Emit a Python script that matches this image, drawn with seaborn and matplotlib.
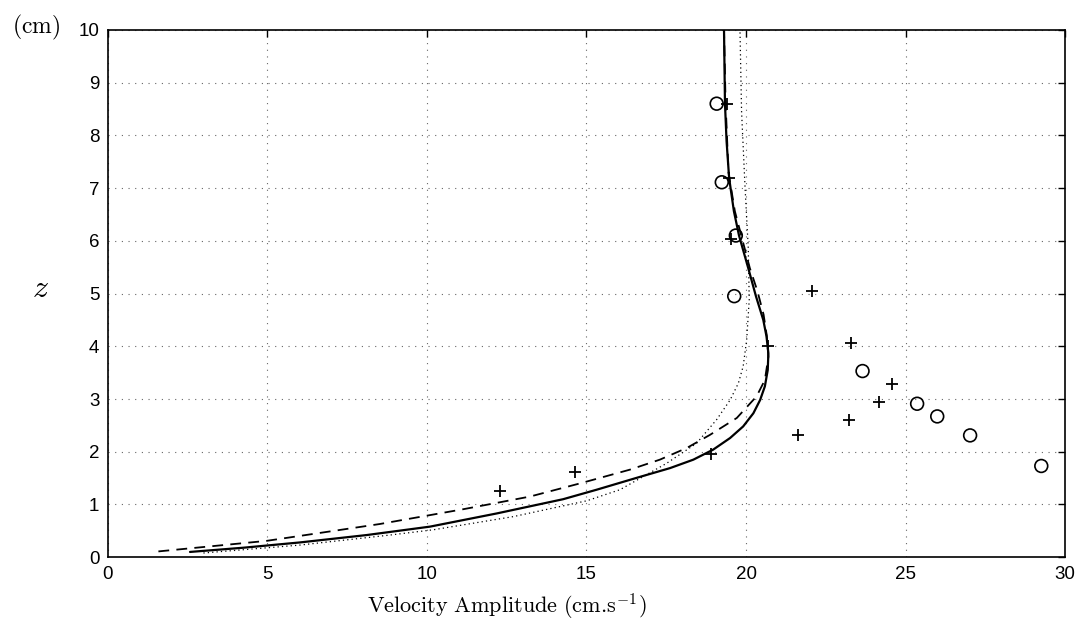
import matplotlib
matplotlib.use("Agg")
import matplotlib.pyplot as plt
import seaborn as sns

# ---- data ----
solid_x = [2.58, 4.25, 6.02, 8.11, 10.10, 12.19, 14.27, 15.32, 16.60, 17.62, 18.35, 18.97, 19.50, 19.91,
           20.23, 20.44, 20.59, 20.68, 20.70, 20.64, 20.54, 20.31, 20.07, 19.78, 19.62, 19.47, 19.39, 19.34, 19.31]
solid_z = [0.10, 0.18, 0.28, 0.42, 0.58, 0.83, 1.10, 1.28, 1.51, 1.69, 1.85, 2.04, 2.26, 2.48,
           2.73, 2.98, 3.24, 3.55, 3.87, 4.19, 4.50, 4.95, 5.48, 6.10, 6.56, 7.19, 7.89, 8.60, 10.0]

dash_x = [1.59, 4.98, 8.53, 11.14, 13.23, 14.80, 16.36, 17.30, 18.14, 18.87, 19.71, 20.33, 20.59,
          20.70, 20.65, 20.55, 20.36, 20.12, 19.65, 19.45, 19.36, 19.31]
dash_z = [0.11, 0.31, 0.63, 0.91, 1.15, 1.40, 1.66, 1.85, 2.07, 2.32, 2.64, 3.05, 3.36,
          3.80, 4.20, 4.60, 5.04, 5.48, 6.56, 7.30, 8.60, 10.0]

dot_x = [3.0, 6.02, 8.84, 10.2, 12.71, 15.01, 16.05, 17.51, 18.45, 19.08, 19.50, 19.76, 19.91,
         20.02, 20.10, 20.07, 19.97, 19.86, 19.81]
dot_z = [0.08, 0.23, 0.42, 0.52, 0.77, 1.07, 1.28, 1.78, 2.16, 2.61, 2.98, 3.30, 3.62,
         4.12, 4.88, 5.86, 7.00, 8.45, 10.0]

circ_x = [19.08, 19.24, 19.68, 19.63, 23.65, 25.36, 25.99, 27.02, 29.25]
circ_z = [8.60, 7.11, 6.10, 4.95, 3.53, 2.91, 2.67, 2.31, 1.73]

plus_x = [19.39, 19.47, 19.53, 22.08, 20.70, 23.29, 24.56, 24.16, 23.22, 21.64, 18.89, 14.64, 12.29]
plus_z = [8.60, 7.19, 6.03, 5.04, 4.00, 4.06, 3.28, 2.95, 2.61, 2.31, 1.96, 1.61, 1.26]

xticks = [0, 5, 10, 15, 20, 25, 30]
yticks = list(range(0, 11))

# ---- styling ----
sns.set_theme(style="white")
plt.rcParams["font.family"] = ["Liberation Sans", "DejaVu Sans"]
plt.rcParams["mathtext.fontset"] = "cm"

fig = plt.figure(figsize=(10.82, 6.35), dpi=100)
ax = fig.add_axes([0.0995, 0.1225, 0.8850, 0.8305])

line_kw = dict(sort=False, ax=ax, color="black", estimator=None)
sns.lineplot(x=solid_x, y=solid_z, lw=1.6, solid_joinstyle="round", **line_kw)
sns.lineplot(x=dash_x, y=dash_z, lw=1.3, linestyle=(0, (6, 4)), **line_kw)
sns.lineplot(x=dot_x, y=dot_z, lw=0.9, linestyle=(0, (1, 2.5)), **line_kw)
sns.scatterplot(x=circ_x, y=circ_z, ax=ax, marker="o", s=85, facecolor="none",
                edgecolor="black", linewidth=1.2, zorder=5)
sns.scatterplot(x=plus_x, y=plus_z, ax=ax, marker="+", s=80, color="black",
                linewidth=1.3, zorder=5)

ax.set_xlim(0, 30)
ax.set_ylim(0, 10)
ax.set_xticks(xticks)
ax.set_yticks(yticks)
ax.set_xticklabels([str(t) for t in xticks], fontsize=13.5)
ax.set_yticklabels([str(t) for t in yticks], fontsize=13.5)
ax.tick_params(direction="in", top=True, right=True, length=5, width=1,
               color="black", labelcolor="black", pad=6)
ax.grid(True, color="0.4", linestyle=(0, (1, 5)), linewidth=0.8)
for sp in ax.spines.values():
    sp.set_color("black")
    sp.set_linewidth(1.2)

ax.set_xlabel(r"$\mathrm{Velocity\ Amplitude\ (cm.\!s^{-1})}$", fontsize=16, color="black")
ax.xaxis.set_label_coords(0.417, -0.065)
ax.set_ylabel(r"$z$", fontsize=23, rotation=0, color="black")
ax.yaxis.set_label_coords(-0.07, 0.48)
fig.text(0.011, 0.948, r"$\mathrm{(cm)}$", fontsize=17, color="black")

fig.savefig("out.png", dpi=100, facecolor="white")
